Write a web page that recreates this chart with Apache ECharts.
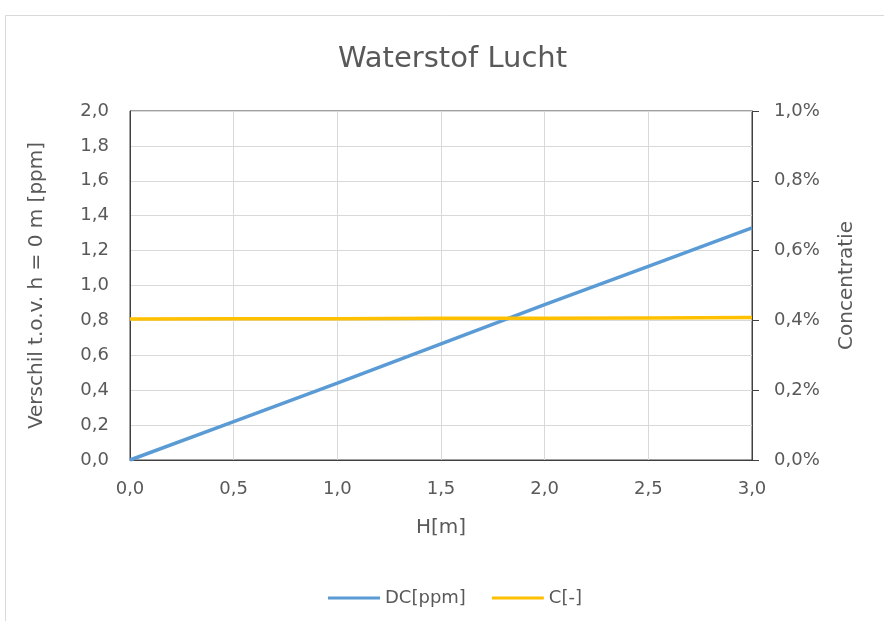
<!DOCTYPE html>
<html>
<head>
<meta charset="utf-8">
<script src="https://cdn.jsdelivr.net/npm/echarts@6/dist/echarts.min.js"></script>
<style>
html,body{margin:0;padding:0;background:#fff;}
#c{width:884px;height:621px;}
</style>
</head>
<body>
<div id="c"></div>
<script>
var titleText = 'Waterstof Lucht';
var xName = 'H[m]';
var yLeftName = 'Verschil t.o.v. h = 0 m [ppm]';
var yRightName = 'Concentratie';
var seriesNames = ['DC[ppm]', 'C[-]'];
var H = [0, 0.5, 1.0, 1.5, 2.0, 2.5, 3.0];
var DC = [0, 0.22, 0.44, 0.665, 0.89, 1.11, 1.33];
var C = [0.404, 0.405, 0.405, 0.406, 0.406, 0.407, 0.408];

var FONT = 'DejaVu Sans';
var TXT = '#595959';
function comma(v, d){ return v.toFixed(d).replace('.', ','); }

var chart = echarts.init(document.getElementById('c'), null, {renderer:'canvas'});
chart.setOption({
  backgroundColor: '#fff',
  animation: false,
  textStyle: {fontFamily: FONT, color: TXT},
  graphic: [{
    type: 'rect', silent: true, z: -10,
    shape: {x: 5.5, y: 15.5, width: 900, height: 700},
    style: {fill: 'none', stroke: '#d9d9d9', lineWidth: 1}
  }],
  title: {
    text: titleText, left: 333, top: 40,
    textStyle: {fontFamily: FONT, fontSize: 29, fontWeight: 'normal', color: TXT}
  },
  legend: {
    top: 584, left: 323,
    icon: 'rect',
    itemWidth: 52, itemHeight: 3, itemGap: 26,
    textStyle: {fontFamily: FONT, fontSize: 18, color: TXT},
    data: seriesNames
  },
  grid: {
    left: 130, right: 132, top: 111, bottom: 161,
    show: true, borderColor: '#404040', borderWidth: 1
  },
  xAxis: {
    type: 'value', min: 0, max: 3, interval: 0.5,
    name: xName, nameLocation: 'middle', nameGap: 58,
    nameTextStyle: {fontFamily: FONT, fontSize: 20, color: TXT},
    axisLine: {show: true, lineStyle: {color: '#404040'}},
    axisTick: {show: false},
    axisLabel: {margin: 20, fontFamily: FONT, fontSize: 18, color: TXT, formatter: function(v){return comma(v,1);}},
    splitLine: {show: true, lineStyle: {color: '#d9d9d9', width: 1}}
  },
  yAxis: [{
    type: 'value', min: 0, max: 2, interval: 0.2, position: 'left',
    name: yLeftName, nameLocation: 'middle', nameGap: 83, nameRotate: 90,
    nameTextStyle: {fontFamily: FONT, fontSize: 20, color: TXT},
    axisLine: {show: true, lineStyle: {color: '#404040'}},
    axisTick: {show: false},
    axisLabel: {margin: 21, fontFamily: FONT, fontSize: 18, color: TXT, formatter: function(v){return comma(v,1);}},
    splitLine: {show: true, lineStyle: {color: '#d9d9d9', width: 1}}
  }, {
    type: 'value', min: 0, max: 1, interval: 0.2, position: 'right',
    name: yRightName, nameLocation: 'middle', nameGap: 85, nameRotate: 90,
    nameTextStyle: {fontFamily: FONT, fontSize: 20, color: TXT},
    axisLine: {show: true, lineStyle: {color: '#404040'}},
    axisTick: {show: true, length: 7, lineStyle: {color: '#404040'}},
    axisLabel: {margin: 22, fontFamily: FONT, fontSize: 18, color: TXT, formatter: function(v){return comma(v,1)+'%';}},
    splitLine: {show: false}
  }],
  series: [{
    name: seriesNames[0], type: 'line', yAxisIndex: 0, symbol: 'none',
    data: H.map(function(h,i){return [h, DC[i]];}),
    lineStyle: {color: '#5b9bd5', width: 3.5}, itemStyle: {color: '#5b9bd5'}
  }, {
    name: seriesNames[1], type: 'line', yAxisIndex: 1, symbol: 'none',
    data: H.map(function(h,i){return [h, C[i]];}),
    lineStyle: {color: '#ffc000', width: 3.5}, itemStyle: {color: '#ffc000'}
  }]
});
</script>
</body>
</html>
